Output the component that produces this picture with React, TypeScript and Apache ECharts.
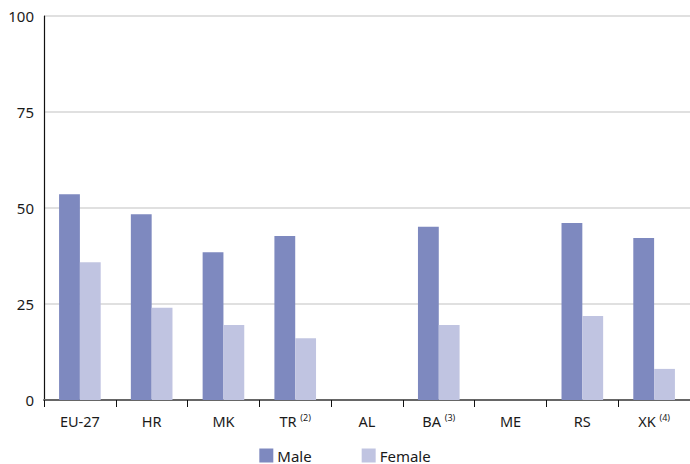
import React, { useEffect, useRef } from "react";
import * as echarts from "echarts";

const categories = ["EU-27", "HR", "MK", "TR", "AL", "BA", "ME", "RS", "XK"];
const footnotes = ["", "", "", "(2)", "", "(3)", "", "", "(4)"];
const maleValues: (number | null)[] = [53.6, 48.4, 38.5, 42.7, null, 45.1, null, 46.1, 42.2];
const femaleValues: (number | null)[] = [35.9, 24.0, 19.5, 16.1, null, 19.5, null, 21.9, 8.1];
const yTicks = [0, 25, 50, 75, 100];

const FONT = "'Noto Sans', sans-serif";

export default function App() {
  const ref = useRef<HTMLDivElement>(null);
  useEffect(() => {
    document.body.style.margin = "0";
    document.body.style.overflow = "hidden";
    if (!ref.current) return;
    const chart = echarts.init(ref.current, undefined, { renderer: "svg" });
    chart.setOption({
      animation: false,
      textStyle: { fontFamily: FONT },
      grid: { left: 44, right: 0, top: 16, bottom: 64, containLabel: false },
      legend: {
        top: 448,
        left: "center",
        padding: 0,
        itemWidth: 14,
        itemHeight: 14,
        itemGap: 50,
        icon: "rect",
        textStyle: { fontSize: 15, color: "#1a1a1a", fontFamily: FONT, padding: [0, 0, 0, -1] },
        data: ["Male", "Female"],
      },
      xAxis: {
        type: "category",
        data: categories.map((c, i) => (footnotes[i] ? `${c} {sup|${footnotes[i]}}` : c)),
        axisLine: { lineStyle: { color: "#666", width: 2 } },
        axisTick: { show: true, interval: 0, length: 7, lineStyle: { color: "#111", width: 1 } },
        axisLabel: {
          interval: 0,
          margin: 13,
          fontSize: 14.5,
          color: "#1a1a1a",
          fontFamily: FONT,
          rich: {
            sup: { fontSize: 9, color: "#1a1a1a", verticalAlign: "top", lineHeight: 16, padding: [0, 0, 6, 0] },
          },
        },
      },
      yAxis: {
        type: "value",
        min: 0,
        max: 100,
        interval: 25,
        axisLine: { show: true, lineStyle: { color: "#111", width: 1.2 } },
        axisTick: { show: false },
        splitLine: { lineStyle: { color: "#d6d6d6", width: 1.5 } },
        axisLabel: {
          margin: 10,
          fontSize: 15,
          color: "#1a1a1a",
          fontFamily: FONT,
          formatter: (v: number) => (yTicks.includes(v) ? String(v) : ""),
        },
      },
      series: [
        {
          name: "Male",
          type: "bar",
          data: maleValues,
          barGap: "0%",
          barCategoryGap: "42%",
          itemStyle: { color: "#7e89bf" },
        },
        {
          name: "Female",
          type: "bar",
          data: femaleValues,
          itemStyle: { color: "#c0c4e1" },
        },
      ],
    });
    return () => chart.dispose();
  }, []);
  return <div ref={ref} style={{ width: 690, height: 464 }} />;
}
